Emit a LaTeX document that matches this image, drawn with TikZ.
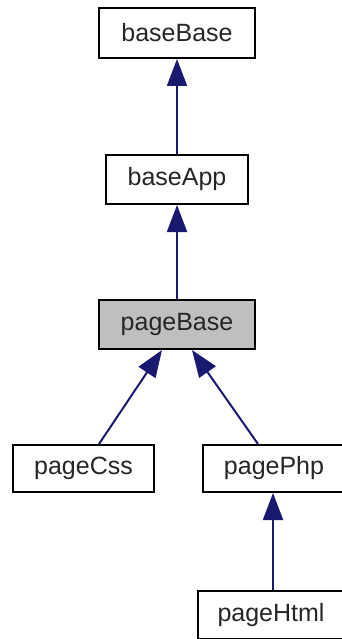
\documentclass[tikz,border=0pt]{standalone}
\usepackage{fontspec}
\setmainfont{Liberation Sans}
\usetikzlibrary{arrows.meta}
\definecolor{edgeblue}{HTML}{191970}
\definecolor{hlgray}{HTML}{BFBFBF}
\tikzset{
  cls/.style={draw=black, line width=2pt, fill=white, inner sep=0pt, font=\fontsize{25}{28}\selectfont, text=black!85},
  inh/.style={draw=edgeblue, line width=2pt, -{Triangle[length=27pt,width=20pt,fill=edgeblue]}}
}
\begin{document}
\begin{tikzpicture}[x=1pt,y=-1pt]
\useasboundingbox (0,0) rectangle (342,639);
\node[cls, minimum width=156pt, minimum height=50pt] (bb) at (177,33) {baseBase};
\node[cls, minimum width=142pt, minimum height=49pt] (ba) at (177,179.5) {baseApp};
\node[cls, fill=hlgray, minimum width=156pt, minimum height=49pt] (pb) at (177,324.5) {pageBase};
\node[cls, minimum width=141pt, minimum height=47pt] (pc) at (83.5,468.5) {pageCss};
\node[cls, minimum width=143pt, minimum height=47pt] (pp) at (274,468.5) {pagePhp};
\node[cls, minimum width=146pt, minimum height=48pt] (ph) at (271,615) {pageHtml};
\draw[inh] (ba.north) -- (bb.south);
\draw[inh] (pb.north) -- (ba.south);
\draw[inh] ([xshift=15.5pt]pc.north) -- ([xshift=-15pt]pb.south);
\draw[inh] ([xshift=-16pt]pp.north) -- ([xshift=15pt]pb.south);
\draw[inh] ([xshift=-1pt]pp.south |- ph.north) -- ([xshift=-1pt]pp.south);
\end{tikzpicture}
\end{document}
